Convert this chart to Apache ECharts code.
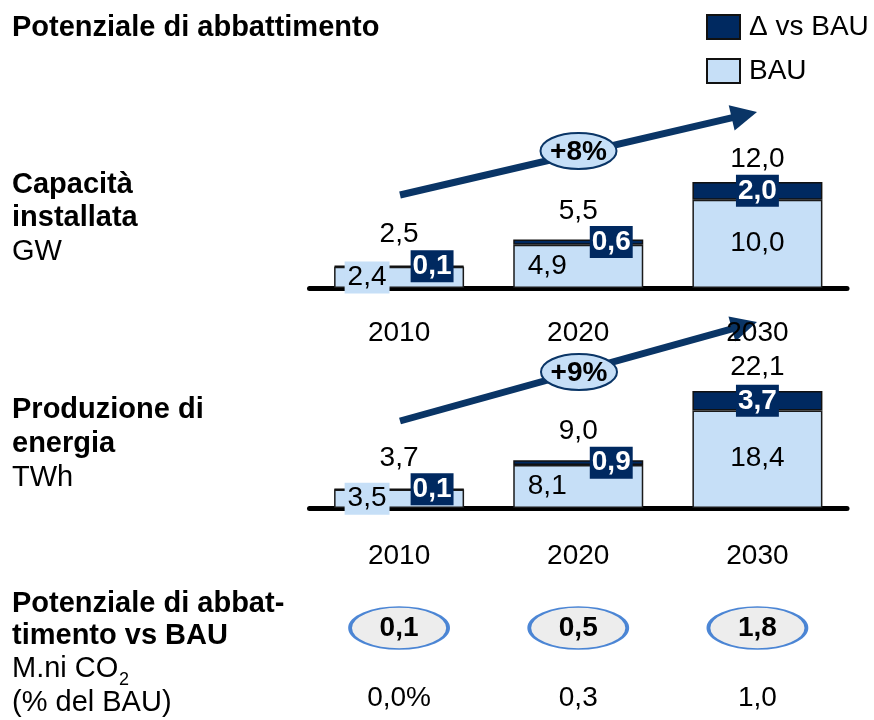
<!DOCTYPE html>
<html>
<head>
<meta charset="utf-8">
<script src="https://cdn.jsdelivr.net/npm/echarts@6/dist/echarts.min.js"></script>
<style>
  html, body { margin: 0; background: #fff; }
  #chart { width: 874px; height: 720px; }
</style>
</head>
<body>
<div id="chart"></div>
<script>
// dati
const years = ['2010', '2020', '2030'];
const capBau = [2.4, 4.9, 10.0];
const capDelta = [0.1, 0.6, 2.0];
const capTotal = [2.5, 5.5, 12.0];
const prodBau = [3.5, 8.1, 18.4];
const prodDelta = [0.1, 0.9, 3.7];
const prodTotal = [3.7, 9.0, 22.1];
const capGrowth = '+8%';
const prodGrowth = '+9%';
const abatement = [0.1, 0.5, 1.8];      // M.ni CO2
const abatementPct = [0.0, 0.3, 1.0];   // % del BAU

// stile / layout
const FONT = '"Liberation Sans", Arial, sans-serif';
const NAVY = '#002960';
const LIGHT = '#c6dff7';
const ARROW = '#0a3566';
const INK = '#000';
const bauShift = [[-32, 0], [-31, 0], [0, -1]];
const deltaShift = [[33, 0], [33, 0], [0, 0]];
const capTotalGap = [17, 14, 8];
const prodTotalGap = [16, 15, 9];

const fmt = v => v.toFixed(1).replace('.', ',');
// testo nero "pieno" tramite rich text
const ink = (bold) => ({ t: { color: INK, opacity: 1, fontFamily: FONT, fontSize: 28, lineHeight: 28,
                              fontWeight: bold ? 'bold' : 'normal' } });

function barSeries(gi, bau, delta, total, gaps) {
  return [
    {
      name: 'BAU', type: 'bar', stack: 's' + gi, xAxisIndex: gi, yAxisIndex: gi,
      barWidth: 130,
      itemStyle: { color: LIGHT, borderColor: '#1a1a1a', borderWidth: 1.5 },
      label: {
        show: true, position: 'inside', formatter: p => '{t|' + fmt(p.value) + '}',
        rich: ink(false), color: INK, backgroundColor: LIGHT, padding: [2, 3]
      },
      data: bau.map((v, i) => ({ value: v, label: { offset: bauShift[i] } }))
    },
    {
      name: 'Δ vs BAU', type: 'bar', stack: 's' + gi, xAxisIndex: gi, yAxisIndex: gi,
      barWidth: 130,
      itemStyle: { color: NAVY, borderColor: '#111', borderWidth: 1.5 },
      label: {
        show: true, position: 'inside', formatter: p => fmt(p.value),
        fontFamily: FONT, fontSize: 28, lineHeight: 28, fontWeight: 'bold', color: '#fff',
        textBorderWidth: 0, backgroundColor: NAVY, padding: [2, 2]
      },
      data: delta.map((v, i) => ({ value: v, label: { offset: deltaShift[i] } }))
    },
    {
      type: 'scatter', xAxisIndex: gi, yAxisIndex: gi, silent: true,
      symbolSize: 1, itemStyle: { color: 'rgba(0,0,0,0)' },
      label: {
        show: true, position: 'top', formatter: p => '{t|' + fmt(p.value) + '}',
        rich: ink(false), color: INK
      },
      data: total.map((v, i) => ({ value: v, label: { distance: gaps[i] } }))
    }
  ];
}

function arrowGfx(x1, y1, x2, y2) {
  const dx = x2 - x1, dy = y2 - y1, len = Math.hypot(dx, dy);
  const ux = dx / len, uy = dy / len;
  const hl = 26, hw = 13;
  const bx = x2 - ux * hl, by = y2 - uy * hl;
  return [
    { type: 'line', shape: { x1: x1, y1: y1, x2: bx + ux * 2, y2: by + uy * 2 },
      style: { stroke: ARROW, lineWidth: 7 } },
    { type: 'polygon',
      shape: { points: [[x2, y2], [bx - uy * hw, by + ux * hw], [bx + uy * hw, by - ux * hw]] },
      style: { fill: ARROW } }
  ];
}

function bubble(cx, cy, s) {
  return [
    { type: 'ellipse', shape: { cx: cx, cy: cy, rx: 38, ry: 18 },
      style: { fill: LIGHT, stroke: ARROW, lineWidth: 2 } },
    { type: 'text', x: cx, y: cy + 1,
      style: { text: s, fontFamily: FONT, fontSize: 28, fontWeight: 'bold', fill: INK,
               align: 'center', verticalAlign: 'middle' } }
  ];
}

function txt(x, y, s, bold, size) {
  return { type: 'text', x: x, y: y,
    style: { text: s, fontFamily: FONT, fontSize: size || 29, fontWeight: bold ? 'bold' : 'normal',
             fill: INK, align: 'left', verticalAlign: 'middle' } };
}

const xCat = gi => ({
  type: 'category', gridIndex: gi, data: years,
  axisLine: { show: gi < 2, lineStyle: { color: '#000', width: 5, cap: 'round' } },
  axisTick: { show: false },
  axisLabel: { show: gi < 2, margin: gi === 0 ? 31 : 34, fontFamily: FONT, fontSize: 28, color: INK }
});

const myChart = echarts.init(document.getElementById('chart'));
myChart.setOption({
  animation: false,
  legend: {
    orient: 'vertical', left: 706, top: 13, padding: 0,
    itemWidth: 33, itemHeight: 24, itemGap: 16,
    icon: 'rect',
    itemStyle: { borderColor: '#111', borderWidth: 2 },
    textStyle: { fontFamily: FONT, fontSize: 28, color: INK, padding: [0, 0, 0, 4] },
    data: ['Δ vs BAU', 'BAU']
  },
  grid: [
    { left: 309.5, right: 27, top: 182, bottom: 432 },
    { left: 309.5, right: 27, top: 391, bottom: 212 },
    { left: 309.5, right: 27, top: 628, height: 70 }
  ],
  xAxis: [xCat(0), xCat(1), xCat(2)],
  yAxis: [
    { type: 'value', gridIndex: 0, min: 0, max: 12, show: false },
    { type: 'value', gridIndex: 1, min: 0, max: 22.1, show: false },
    { type: 'value', gridIndex: 2, min: 0, max: 1, inverse: true, show: false }
  ],
  series: [
    ...barSeries(0, capBau, capDelta, capTotal, capTotalGap),
    ...barSeries(1, prodBau, prodDelta, prodTotal, prodTotalGap),
    {
      type: 'scatter', xAxisIndex: 2, yAxisIndex: 2, silent: true,
      symbol: 'circle', symbolSize: [98, 42],
      itemStyle: { color: '#e8e8e8', borderColor: '#2169cc', borderWidth: 2.5 },
      label: {
        show: true, position: 'inside', formatter: p => '{t|' + fmt(p.data[2]) + '}',
        rich: ink(true), color: INK
      },
      data: abatement.map((v, i) => [i, 0, v])
    },
    {
      type: 'scatter', xAxisIndex: 2, yAxisIndex: 2, silent: true,
      symbolSize: 1, itemStyle: { color: 'rgba(0,0,0,0)' },
      label: {
        show: true, position: 'inside',
        formatter: p => '{t|' + fmt(p.data[2]) + (p.dataIndex === 0 ? '%' : '') + '}',
        rich: ink(false), color: INK
      },
      data: abatementPct.map((v, i) => [i, 1, v])
    }
  ],
  graphic: [
    txt(12, 28, 'Potenziale di abbattimento', true),
    txt(12, 185, 'Capacità', true),
    txt(12, 218, 'installata', true),
    txt(12, 252, 'GW', false),
    txt(12, 410, 'Produzione di', true),
    txt(12, 444, 'energia', true),
    txt(12, 478, 'TWh', false),
    txt(12, 604, 'Potenziale di abbat-', true),
    txt(12, 636, 'timento vs BAU', true),
    txt(12, 669, 'M.ni CO', false),
    txt(119, 680, '2', false, 18),
    txt(12, 703, '(% del BAU)', false),
    ...arrowGfx(400, 195, 757, 112),
    ...bubble(578.5, 151, capGrowth),
    ...arrowGfx(400, 421, 757, 322),
    ...bubble(579, 372, prodGrowth)
  ]
});
</script>
</body>
</html>
